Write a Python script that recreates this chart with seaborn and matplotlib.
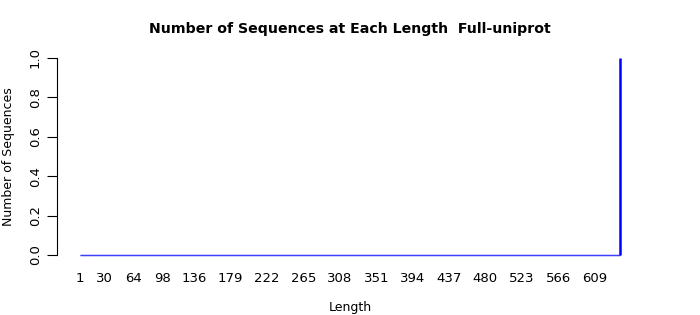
import matplotlib
matplotlib.use("Agg")
import matplotlib.pyplot as plt
import seaborn as sns
import pandas as pd

# Data
lengths = list(range(1, 640))
counts = [0] * 638 + [1]
shown_labels = [1, 30, 64, 98, 136, 179, 222, 265, 308, 351, 394, 437, 480, 523, 566, 609]
y_ticks = [0.0, 0.2, 0.4, 0.6, 0.8, 1.0]

df = pd.DataFrame({"Length": lengths, "Count": counts})

sns.set_style("white")
plt.rcParams['font.family'] = ['DejaVu Sans']
plt.rcParams['text.color'] = 'black'
plt.rcParams['xtick.color'] = 'black'
plt.rcParams['ytick.color'] = 'black'
plt.rcParams['axes.labelcolor'] = 'black'

W, H = 700, 315
fig = plt.figure(figsize=(W / 100, H / 100), dpi=100)

left_px, right_px, top_px, bottom_px = 57, 640, 58, 255
ax = fig.add_axes([left_px / W, 1 - bottom_px / H, (right_px - left_px) / W, (bottom_px - top_px) / H])

sns.barplot(data=df, x="Length", y="Count", color="blue", edgecolor="blue",
            linewidth=1.0, width=1.0, saturation=1, ax=ax, order=lengths)

n = len(lengths)
ppu = (620 - 80) / (n - 1)
ax.set_xlim(-(80 - left_px) / ppu, (n - 1) + (right_px - 620) / ppu)
ax.set_ylim(0, 1)

for b in ax.patches:
    b.set_clip_on(False)
    if b.get_height() > 0:
        b.set_linewidth(1.8)

ax.set_xticks([lengths.index(v) for v in shown_labels])
ax.set_xticklabels([str(v) for v in shown_labels], fontsize=9.5)
ax.tick_params(axis="x", length=0, pad=12)

ax.set_yticks(y_ticks)
ax.set_yticklabels([f"{v:.1f}" for v in y_ticks], rotation=90, va="center", fontsize=9.5)
ax.tick_params(axis="y", length=7, width=0.8, color="black", left=True, pad=4)

for s in ["top", "right", "bottom"]:
    ax.spines[s].set_visible(False)
ax.spines["left"].set_color("black")
ax.spines["left"].set_linewidth(0.8)

ax.set_xlabel("")
ax.set_ylabel("Number of Sequences", fontsize=9, labelpad=10)
fig.text(350 / W, 1 - 307 / H, "Length", ha="center", va="center", fontsize=9)

fig.text(350 / W, 1 - 29 / H, "Number of Sequences at Each Length  Full-uniprot",
         ha="center", va="center", fontsize=10.2, fontweight="bold")

fig.savefig("out.png", dpi=100)
